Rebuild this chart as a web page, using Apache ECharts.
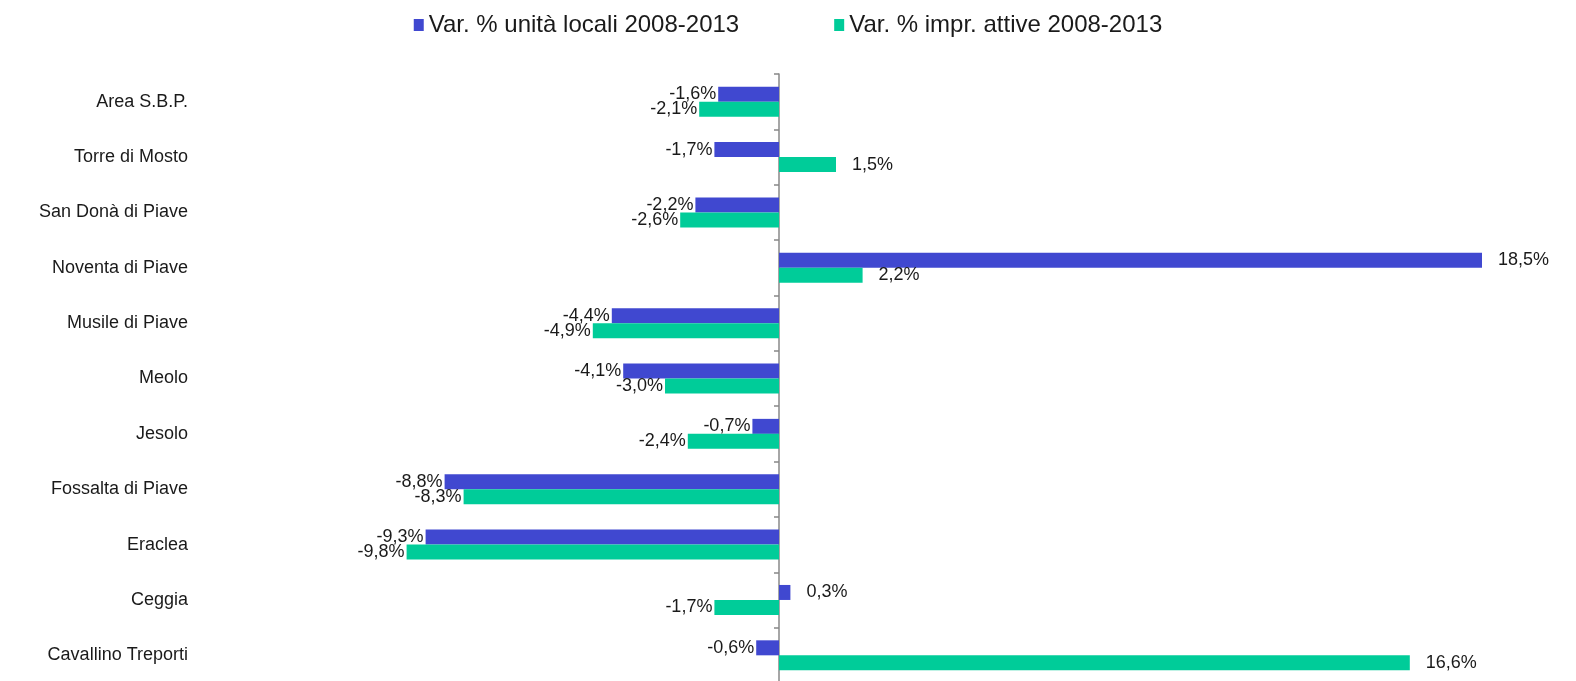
<!DOCTYPE html>
<html>
<head>
<meta charset="utf-8">
<script src="https://cdn.jsdelivr.net/npm/echarts@6/dist/echarts.min.js"></script>
<style>
html,body{margin:0;padding:0;background:#fff;}
#chart{width:1576px;height:681px;}
</style>
</head>
<body>
<div id="chart"></div>
<script>
const categories = ["Area S.B.P.", "Torre di Mosto", "San Donà di Piave", "Noventa di Piave", "Musile di Piave", "Meolo", "Jesolo", "Fossalta di Piave", "Eraclea", "Ceggia", "Cavallino Treporti"];
const unitaLocali = [-1.6, -1.7, -2.2, 18.5, -4.4, -4.1, -0.7, -8.8, -9.3, 0.3, -0.6];
const imprAttive = [-2.1, 1.5, -2.6, 2.2, -4.9, -3.0, -2.4, -8.3, -9.8, -1.7, 16.6];
const seriesNames = ["Var. % unità locali 2008-2013", "Var. % impr. attive 2008-2013"];

const fmt = v => v.toFixed(1).replace('.', ',') + '%';
const toData = arr => arr.map(v => ({
  value: v,
  label: { position: v < 0 ? 'left' : 'right', distance: v < 0 ? 2 : 16 }
}));

const chart = echarts.init(document.getElementById('chart'));
const labelStyle = {
  show: true,
  formatter: p => fmt(p.value),
  fontFamily: 'Liberation Sans, Arial, sans-serif',
  fontSize: 18,
  color: '#1a1a1a'
};
chart.setOption({
  animation: false,
  legend: {
    top: 8,
    left: 'center',
    itemWidth: 10,
    itemHeight: 12,
    itemGap: 95,
    icon: 'rect',
    textStyle: { fontFamily: 'Liberation Sans, Arial, sans-serif', fontSize: 24, color: '#1a1a1a' },
    data: seriesNames
  },
  grid: { left: 209, top: 74, width: 1330, height: 609, containLabel: false, outerBoundsMode: 'none' },
  xAxis: {
    type: 'value', min: -15, max: 20, show: false
  },
  yAxis: {
    type: 'category',
    inverse: true,
    data: categories,
    axisLine: { show: true, onZero: true, lineStyle: { color: '#888', width: 1.5 } },
    axisTick: { show: true, length: 5, lineStyle: { color: '#888', width: 1.5 } },
    axisLabel: { margin: 21, fontFamily: 'Liberation Sans, Arial, sans-serif', fontSize: 18, color: '#1a1a1a' },
    splitLine: { show: false }
  },
  series: [
    { name: seriesNames[0], type: 'bar', data: toData(unitaLocali), barWidth: 15, barGap: '0%',
      itemStyle: { color: '#4048d0' }, label: labelStyle },
    { name: seriesNames[1], type: 'bar', data: toData(imprAttive), barWidth: 15, barGap: '0%',
      itemStyle: { color: '#00cc99' }, label: labelStyle }
  ]
});
</script>
</body>
</html>
